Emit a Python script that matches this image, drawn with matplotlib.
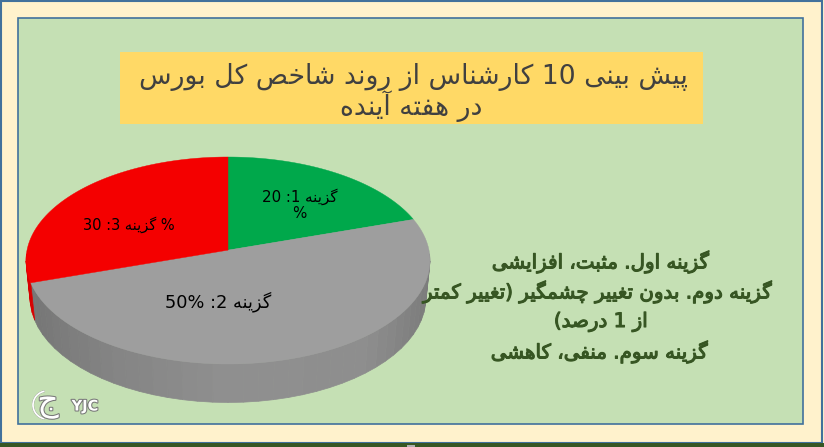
import numpy as np
import matplotlib
matplotlib.use("Agg")
import matplotlib.pyplot as plt
from matplotlib.patches import Rectangle, Polygon, Arc
import matplotlib.patheffects as pe

# Data
title_lines = ["پیش بینی 10 کارشناس از روند شاخص کل بورس", "در هفته آینده"]
pie_values = [20, 50, 30]
pie_colors = ["#00A84B", "#9E9E9E", "#F40000"]
pie_labels = ["گزینه 1: 20", "گزینه 2: %50", "% گزینه 3: 30"]
note_lines = [
    "گزینه اول. مثبت، افزایشی",
    "گزینه دوم. بدون تغییر چشمگیر (تغییر کمتر",
    "از 1 درصد)",
    "گزینه سوم. منفی، کاهشی",
]

# matplotlib does no Arabic shaping, so pick presentation forms by hand
# letter: isolated, final, initial, medial
FORMS = {}
for letter, start in [("ب", 0xFE8F), ("ت", 0xFE95), ("ث", 0xFE99), ("ج", 0xFE9D),
                      ("خ", 0xFEA5), ("س", 0xFEB1), ("ش", 0xFEB5), ("ص", 0xFEB9),
                      ("غ", 0xFECD), ("ف", 0xFED1), ("ل", 0xFEDD), ("م", 0xFEE1),
                      ("ن", 0xFEE5), ("ه", 0xFEE9), ("پ", 0xFB56), ("چ", 0xFB7A),
                      ("ک", 0xFB8E), ("گ", 0xFB92), ("ی", 0xFBFC)]:
    FORMS[letter] = [chr(start + i) for i in range(4)]
for letter, start in [("ا", 0xFE8D), ("آ", 0xFE81), ("د", 0xFEA9), ("ر", 0xFEAD),
                      ("ز", 0xFEAF), ("و", 0xFEED)]:
    FORMS[letter] = [chr(start), chr(start + 1)]


def joins_next(ch):
    return ch in FORMS and len(FORMS[ch]) == 4


def rtl(text):
    out = []
    for i, ch in enumerate(text):
        if ch not in FORMS:
            out.append(ch)
            continue
        before = i > 0 and joins_next(text[i - 1])
        after = i + 1 < len(text) and text[i + 1] in FORMS and joins_next(ch)
        idx = 0
        if before and after:
            idx = 3
        elif before:
            idx = 1
        elif after:
            idx = 2
        out.append(FORMS[ch][idx])
    # visual order: flip everything, then put the digit runs back
    flipped = "".join(out)[::-1].translate(str.maketrans("()", ")("))
    result, run = "", ""
    for ch in flipped:
        if ch.isdigit():
            run += ch
        else:
            result += run[::-1] + ch
            run = ""
    return result + run[::-1]


fig = plt.figure(figsize=(8.24, 4.47), dpi=100)
ax = fig.add_axes([0, 0, 1, 1])
ax.set_xlim(0, 824)
ax.set_ylim(447, 0)
ax.axis("off")

# Slide frame
ax.add_patch(Rectangle((0, 0), 824, 447, fc="#FFF2CC", ec="none"))
ax.add_patch(Rectangle((0.8, 0.8), 821.5, 442, fc="none", ec="#41719C", lw=1.5))
ax.add_patch(Rectangle((0, 443), 824, 4, fc="#375623", ec="none"))
ax.add_patch(Rectangle((407, 445), 8, 2, fc="#B0B0B0", ec="none"))
ax.add_patch(Rectangle((18, 18), 785, 406, fc="#C5E0B4", ec="#41719C", lw=1.2))

# Title band
ax.add_patch(Rectangle((120, 52), 583, 72, fc="#FFD966", ec="none"))
for line, x, y in zip(title_lines, [413, 411], [77, 106]):
    ax.text(x, y, rtl(line), fontsize=19.2, color="#404040", ha="center", va="center")

# Pie: tilted disc, the hub sits above the ellipse centre because of perspective
cx, cy, rx, ry = 228, 260.5, 202, 103.5
cyb, rxb, ryb = 297.5, 198, 105
k = 0.10


def disc(angle_deg):
    a = np.radians(angle_deg)
    u, v = np.cos(a), np.sin(a)
    return u * np.sqrt(1 - k ** 2) / (1 + k * v), (v + k) / (1 + k * v)


starts = 90 - np.cumsum([0] + pie_values[:-1]) * 3.6
sweeps = np.array(pie_values) * 3.6

# side wall first
for start, sweep, color in zip(starts, sweeps, pie_colors):
    angles = np.arange(start, start - sweep - 0.01, -4.0)
    for a0, a1 in zip(angles[:-1], angles[1:]):
        u0, v0 = disc(a0)
        u1, v1 = disc(a1)
        if v0 > 0.02 and v1 > 0.02:
            continue
        um = (u0 + u1) / 2
        if color == "#F40000":
            shade = "#D80000"
        else:
            g = np.interp(um, [-1, -0.6, 0, 0.7, 1], [0x76, 0x84, 0x90, 0x8E, 0x7C])
            shade = "#%02x%02x%02x" % (int(g), int(g), int(g))
        pts = [(cx + rx * u0, cy - ry * v0), (cx + rx * u1, cy - ry * v1),
               (cx + rxb * u1, cyb - ryb * v1), (cx + rxb * u0, cyb - ryb * v0)]
        ax.add_patch(Polygon(pts, fc=shade, ec=shade, lw=0.5))

# top face
for start, sweep, color in zip(starts, sweeps, pie_colors):
    angles = np.linspace(start, start - sweep, 80)
    u, v = disc(angles)
    xs = np.r_[cx, cx + rx * u]
    ys = np.r_[cy - ry * k, cy - ry * v]
    ax.fill(xs, ys, fc=color, ec=color, lw=0.3)

# Pie labels
ax.text(300, 197, rtl(pie_labels[0]), fontsize=10.8, color="black", ha="center", va="center")
ax.text(299.5, 214, "%", fontsize=10.8, color="black", ha="center", va="center")
ax.text(218.5, 302, rtl(pie_labels[1]), fontsize=12.8, color="black", ha="center", va="center")
ax.text(129, 225, rtl(pie_labels[2]), fontsize=10.5, color="black", ha="center", va="center")

# Notes on the right, regular weight thickened with a stroke looks closer than the bold face
thick = [pe.withStroke(linewidth=0.8, foreground="#375623")]
for line, x, y in zip(note_lines, [601, 599, 601, 600], [262, 292, 322, 352]):
    ax.text(x, y, rtl(line), fontsize=14.3, color="#375623", ha="center", va="center",
            path_effects=thick)

# Watermark
halo = [pe.withStroke(linewidth=1.5, foreground="#777777")]
ax.text(85, 406, "YJC", fontsize=10.5, fontweight="bold", color="white",
        ha="center", va="center", path_effects=halo)
ax.text(48, 403, rtl("ج"), fontsize=24, color="white", ha="center", va="center", path_effects=halo)
ax.add_patch(Arc((47, 405), 28, 28, theta1=100, theta2=260, ec="white", lw=1.3, path_effects=halo))

fig.savefig("out.png", dpi=100)
